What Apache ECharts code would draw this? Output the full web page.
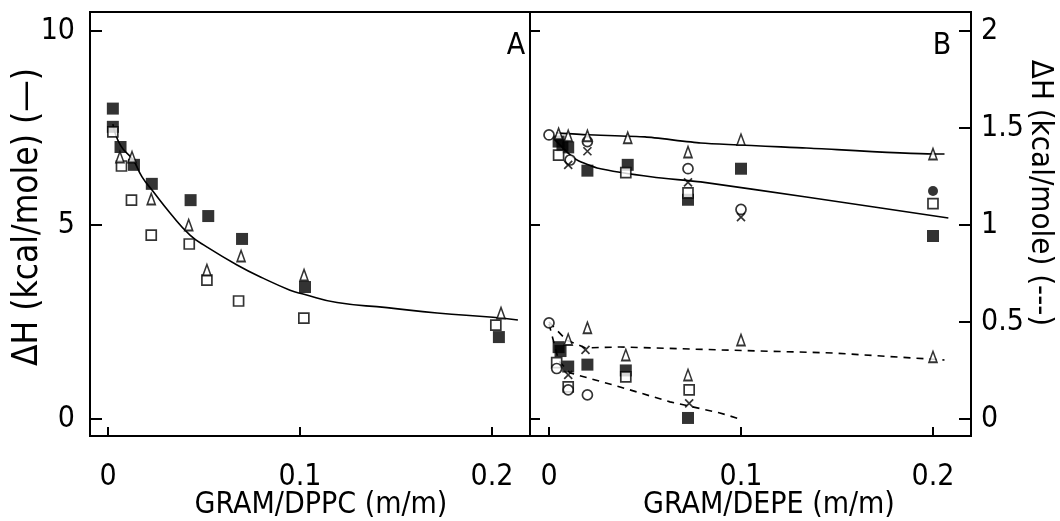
<!DOCTYPE html>
<html>
<head>
<meta charset="utf-8">
<script src="https://cdn.jsdelivr.net/npm/echarts@6/dist/echarts.min.js"></script>
<style>
html,body{margin:0;padding:0;background:#fff;}
#chart{width:1060px;height:521px;}
</style>
</head>
<body>
<div id="chart"></div>
<script>
// ---------- tick labels ----------
var xTicks = [0, 0.1, 0.2];
var yTicksA = [0, 5, 10];
var yTicksB = [0, 0.5, 1, 1.5, 2];
var yTicksBLeft = [0, 1, 2];

// ---------- Panel A: GRAM/DPPC ----------
var aFilledSquare = [[0.0025,8.0],[0.0025,7.53],[0.0065,7.01],[0.0135,6.55],[0.0228,6.06],[0.043,5.64],[0.0522,5.23],[0.0698,4.64],[0.1026,3.40],[0.2036,2.11]];
var aOpenSquare = [[0.0025,7.40],[0.007,6.52],[0.0122,5.64],[0.0225,4.74],[0.0423,4.51],[0.0515,3.58],[0.068,3.04],[0.102,2.60],[0.202,2.42]];
var aTriangle = [[0.0062,6.75],[0.0125,6.75],[0.0225,5.67],[0.042,5.0],[0.0515,3.84],[0.0693,4.20],[0.1021,3.71],[0.2047,2.73]];
var aCurve = [[0.0025,7.6],[0.0065,7.05],[0.013,6.68],[0.0177,6.24],[0.0229,5.9],[0.0323,5.31],[0.0427,4.74],[0.0516,4.43],[0.0672,3.97],[0.0807,3.63],[0.0948,3.32],[0.1016,3.22],[0.1193,3.0],[0.1453,2.87],[0.1714,2.73],[0.2005,2.62],[0.2135,2.55]];

// ---------- Panel B: GRAM/DEPE ----------
var bFilledSquare = [[0.005,1.43],[0.007,1.41],[0.01,1.40],[0.02,1.28],[0.041,1.31],[0.0724,1.13],[0.1,1.29],[0.2,0.943],
                     [0.005,0.37],[0.006,0.35],[0.01,0.27],[0.02,0.28],[0.04,0.25],[0.0724,0.005]];
var bOpenSquare = [[0.005,1.36],[0.04,1.27],[0.0724,1.165],[0.2,1.11],
                   [0.004,0.29],[0.01,0.165],[0.04,0.217],[0.073,0.15]];
var bTriangle = [[0.005,1.47],[0.01,1.46],[0.02,1.46],[0.041,1.45],[0.0724,1.376],[0.1,1.44],[0.2,1.366],
                 [0.01,0.41],[0.02,0.47],[0.04,0.33],[0.0724,0.227],[0.1,0.407],[0.2,0.32]];
var bOpenCircle = [[0.0,1.464],[0.011,1.335],[0.02,1.43],[0.0724,1.29],[0.1,1.08],
                   [0.0,0.495],[0.004,0.26],[0.01,0.15],[0.02,0.124]];
var bCross = [[0.01,1.31],[0.02,1.38],[0.0724,1.22],[0.1,1.04],
              [0.01,0.227],[0.019,0.356],[0.073,0.08]];
var bFilledCircle = [[0.2,1.175]];
var bSolidUpper = [[0.004,1.475],[0.02,1.465],[0.05,1.454],[0.079,1.423],[0.134,1.397],[0.2,1.366],[0.206,1.366]];
var bSolidLower = [[0.003,1.44],[0.01,1.37],[0.0146,1.335],[0.025,1.294],[0.054,1.247],[0.079,1.222],[0.134,1.144],[0.208,1.036]];
var bDashUpper = [[0.0,0.5],[0.009,0.407],[0.019,0.366],[0.037,0.371],[0.089,0.356],[0.148,0.34],[0.206,0.304]];
var bDashLower = [[0.0,0.49],[0.005,0.30],[0.011,0.237],[0.037,0.165],[0.063,0.088],[0.089,0.031],[0.101,-0.005]];

var FONT = "'DejaVu Sans Condensed','Liberation Sans Narrow','DejaVu Sans',sans-serif";
var CROSS = 'path://M0,0L10,10M10,0L0,10';
var FS = 30;

function fmt(v){ return String(v); }

function scatter(name, data, xi, yi, symbol, size, filled){
  return {
    type:'scatter', name:name, data:data, xAxisIndex:xi, yAxisIndex:yi,
    symbol:symbol, symbolSize:size, z:5, silent:true,
    itemStyle:{
      color: filled ? '#000' : (symbol===CROSS ? 'rgba(0,0,0,0)' : '#fff'),
      borderColor:'#000', borderWidth: filled ? 0 : 1.7
    }
  };
}
function line(data, xi, yi, dashed, smooth){
  return {
    type:'line', data:data, xAxisIndex:xi, yAxisIndex:yi, showSymbol:false, symbol:'none',
    smooth:smooth, z:3, silent:true,
    lineStyle:{color:'#000', width:1.6, type: dashed ? [7,6] : 'solid'}
  };
}
function txt(s, x, y, size, rot){
  return {type:'text', x:x, y:y, rotation:rot || 0, z:10,
          style:{text:s, font:size + 'px ' + FONT, fill:'#000', textAlign:'center', textVerticalAlign:'middle'}};
}

var chart = echarts.init(document.getElementById('chart'), null, {renderer:'canvas'});
chart.setOption({
  backgroundColor:'#fff',
  animation:false,
  grid:[
    {left:90, top:12, width:440, height:424, show:true, borderColor:'#000', borderWidth:2, backgroundColor:'transparent', containLabel:false, outerBoundsMode:'none'},
    {left:530, top:12, width:441, height:424, show:true, borderColor:'#000', borderWidth:2, backgroundColor:'transparent', containLabel:false, outerBoundsMode:'none'}
  ],
  xAxis:[
    {type:'value', gridIndex:0, min:-0.0094, max:0.2198, position:'bottom',
     axisLine:{show:false, onZero:false}, splitLine:{show:false},
     axisTick:{show:true, inside:true, length:9, customValues:xTicks, lineStyle:{color:'#000', width:2}},
     axisLabel:{show:true, customValues:xTicks, margin:26, formatter:fmt, fontFamily:FONT, fontSize:FS, color:'#000'}},
    {type:'value', gridIndex:1, min:-0.0099, max:0.2198, position:'bottom',
     axisLine:{show:false, onZero:false}, splitLine:{show:false},
     axisTick:{show:true, inside:true, length:9, customValues:xTicks, lineStyle:{color:'#000', width:2}},
     axisLabel:{show:true, customValues:xTicks, margin:26, formatter:fmt, fontFamily:FONT, fontSize:FS, color:'#000'}}
  ],
  yAxis:[
    {type:'value', gridIndex:0, position:'left', min:-0.44, max:10.49,
     axisLine:{show:false, onZero:false}, splitLine:{show:false},
     axisTick:{show:true, inside:true, length:12, customValues:yTicksA, lineStyle:{color:'#000', width:2}},
     axisLabel:{show:true, customValues:yTicksA, margin:15, formatter:fmt, fontFamily:FONT, fontSize:FS, color:'#000'}},
    {type:'value', gridIndex:1, position:'left', min:-0.088, max:2.098,
     axisLine:{show:false, onZero:false}, splitLine:{show:false},
     axisTick:{show:true, inside:true, length:10, customValues:yTicksBLeft, lineStyle:{color:'#000', width:2}},
     axisLabel:{show:false}},
    {type:'value', gridIndex:1, position:'right', min:-0.088, max:2.098,
     axisLine:{show:false, onZero:false}, splitLine:{show:false},
     axisTick:{show:true, inside:true, length:12, customValues:yTicksB, lineStyle:{color:'#000', width:2}},
     axisLabel:{show:true, customValues:yTicksB, margin:10, formatter:fmt, fontFamily:FONT, fontSize:FS, color:'#000'}}
  ],
  graphic:[
    txt('ΔH (kcal/mole) (—)', 28, 217, 35, Math.PI/2),
    txt('ΔH (kcal/mole) (---)', 1040, 193, 31, -Math.PI/2),
    txt('GRAM/DPPC (m/m)', 321, 505, FS),
    txt('GRAM/DEPE (m/m)', 769, 505, FS),
    txt('A', 516, 46, FS),
    txt('B', 942, 46, FS)
  ],
  series:[
    line(aCurve, 0, 0, false, 0.5),
    scatter('A filled', aFilledSquare, 0, 0, 'rect', 12, true),
    scatter('A open', aOpenSquare, 0, 0, 'rect', 10, false),
    scatter('A tri', aTriangle, 0, 0, 'triangle', [8,11], false),

    line(bSolidUpper, 1, 2, false, 0.2),
    line(bSolidLower, 1, 2, false, 0.2),
    line(bDashUpper, 1, 2, true, 0),
    line(bDashLower, 1, 2, true, 0),
    scatter('B filled', bFilledSquare, 1, 2, 'rect', 12, true),
    scatter('B open', bOpenSquare, 1, 2, 'rect', 10, false),
    scatter('B circle', bOpenCircle, 1, 2, 'circle', 10, false),
    scatter('B cross', bCross, 1, 2, CROSS, 8, false),
    scatter('B tri', bTriangle, 1, 2, 'triangle', [8,11], false),
    scatter('B fcircle', bFilledCircle, 1, 2, 'circle', 10, true)
  ]
});
</script>
</body>
</html>
